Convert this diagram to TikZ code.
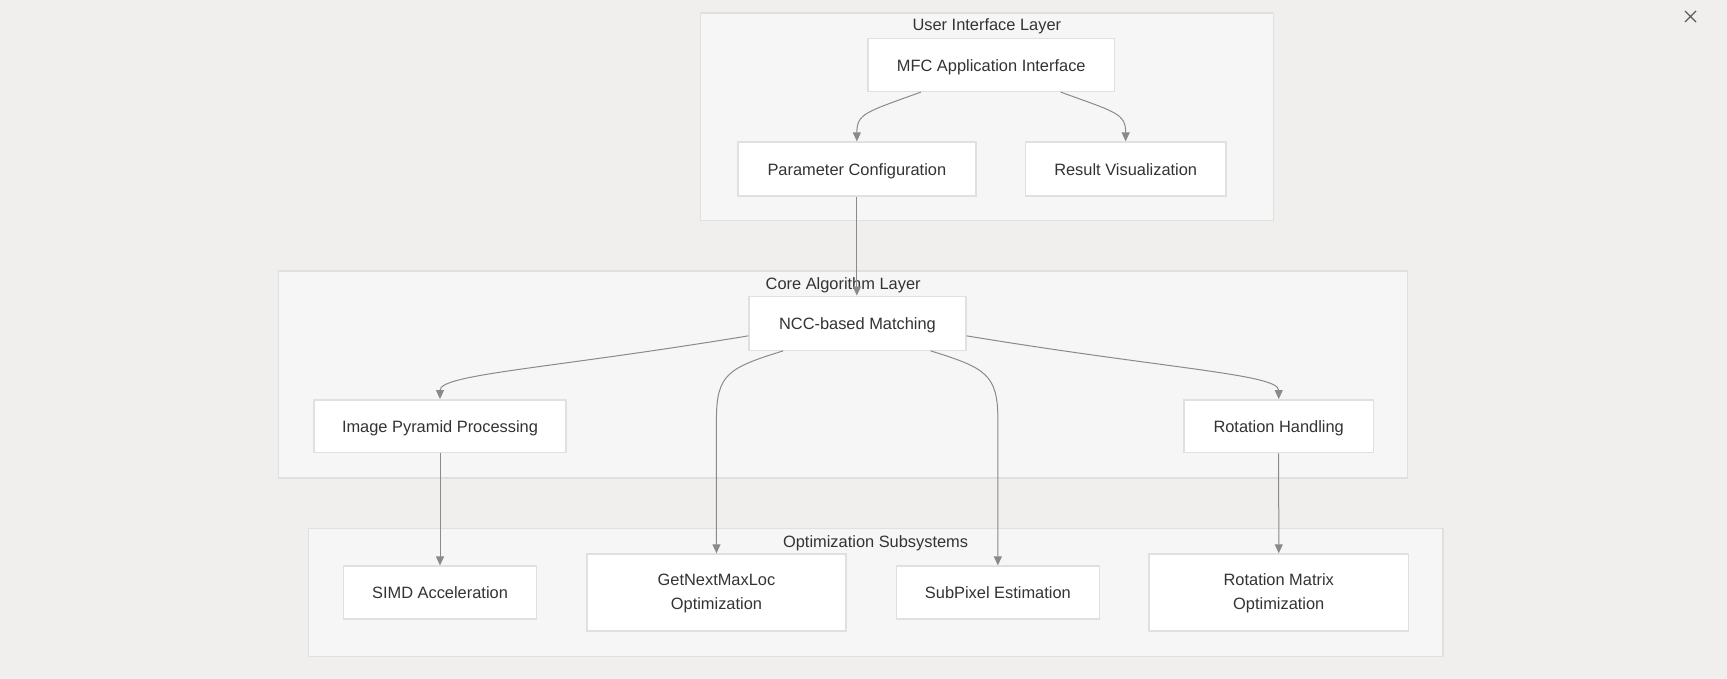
\documentclass[tikz,border=0pt]{standalone}
\usepackage{fontspec}
\setmainfont{Liberation Sans}
\usepackage{xcolor}
\usetikzlibrary{arrows.meta}

\begin{document}
\begin{tikzpicture}[x=0.5pt, y=-0.5pt,
        basebox/.style={draw=boxline, fill=white, line width=0.7pt, text=textcol, align=center, font=\fontsize{8.2}{12.1}\selectfont, inner sep=0pt},
        box/.style={basebox, text height=8.2pt, text depth=1.8pt},
        twobox/.style={basebox, text height=18.9pt, text depth=1.8pt},
        grouptitle/.style={text=textcol, font=\fontsize{8.2}{10}\selectfont, inner sep=0pt, text height=8.2pt, text depth=1.8pt},
        group/.style={fill=groupfill, draw=boxline, line width=0.7pt},
        edge/.style={draw=edgecol, line width=0.5pt, -{Triangle[length=4.5pt,width=4pt]}}]
        % Define colors for the layers
        \definecolor{bgcol}{RGB}{240,239,237}
        \definecolor{groupfill}{RGB}{246,246,246}
        \definecolor{boxline}{RGB}{224,224,224}
        \definecolor{edgecol}{RGB}{138,138,138}
        \definecolor{textcol}{RGB}{51,51,51}

        % Canvas
        \fill[bgcol] (0,0) rectangle (1727,679);
        \useasboundingbox (0,0) rectangle (1727,679);

        % 1. User Interface Layer (Top)
        \filldraw[group] (700.5,13.2) rectangle (1273.2,220.3);
        \node[grouptitle] (uititle) at (986.85,24.2) {User Interface Layer};
        \node[box, minimum width=123.35pt, minimum height=26.45pt] (mfc) at (991.25,64.95) {MFC Application Interface};
        \node[box, minimum width=118.95pt, minimum height=27pt] (param) at (856.85,169.1) {Parameter Configuration};
        \node[box, minimum width=100.25pt, minimum height=27pt] (result) at (1125.65,169.1) {Result Visualization};

        % 2. Core Algorithm Layer (Middle)
        \filldraw[group] (278.7,270.9) rectangle (1407.6,478);
        \node[grouptitle] (coretitle) at (843.15,283.1) {Core Algorithm Layer};
        \node[box, minimum width=108.45pt, minimum height=26.95pt] (ncc) at (857.45,323.25) {NCC-based Matching};
        \node[box, minimum width=126.1pt, minimum height=26.45pt] (pyramid) at (440,426.25) {Image Pyramid Processing};
        \node[box, minimum width=94.7pt, minimum height=26.45pt] (rotation) at (1278.7,426.25) {Rotation Handling};

        % 3. Optimization Subsystems (Bottom)
        \filldraw[group] (308.4,528.7) rectangle (1442.8,656.4);
        \node[grouptitle] (opttitle) at (875.6,540.8) {Optimization Subsystems};
        \node[box, minimum width=96.4pt, minimum height=26.45pt] (simd) at (440,592.55) {SIMD Acceleration};
        \node[twobox, minimum width=129.45pt, minimum height=38.55pt] (maxloc) at (716.45,592.55) {GetNextMaxLoc\\Optimization};
        \node[box, minimum width=101.35pt, minimum height=26.45pt] (subpixel) at (997.85,592.55) {SubPixel Estimation};
        \node[twobox, minimum width=129.95pt, minimum height=38.55pt] (rotmatrix) at (1278.75,592.55) {Rotation Matrix\\Optimization};

        % Connectors
        \draw[edge] ([xshift=-35.2pt]mfc.south) .. controls +(-55,20) and +(0,-28) .. (param.north);
        \draw[edge] ([xshift=34.7pt]mfc.south) .. controls +(55,20) and +(0,-28) .. (result.north);
        \draw[edge] (param.south) -- (param.south |- ncc.north);
        \draw[edge] ([yshift=-6.3pt]ncc.west) .. controls +(-200,33) and +(0,-25) .. (pyramid.north);
        \draw[edge] ([yshift=-6.3pt]ncc.east) .. controls +(200,33) and +(0,-25) .. (rotation.north);
        \draw[edge] ([xshift=-37.2pt]ncc.south) .. controls +(-55,17) and +(0,-45) .. ([yshift=67pt]maxloc.north) -- (maxloc.north);
        \draw[edge] ([xshift=36.6pt]ncc.south) .. controls +(55,17) and +(0,-45) .. ([yshift=73pt]subpixel.north) -- (subpixel.north);
        \draw[edge] (pyramid.south) -- (simd.north);
        \draw[edge] (rotation.south) -- (rotmatrix.north);

        % Close mark
        \draw[textcol!80, line width=0.6pt] (1685,11) -- (1696,22) (1685,22) -- (1696,11);

    \end{tikzpicture}
\end{document}
